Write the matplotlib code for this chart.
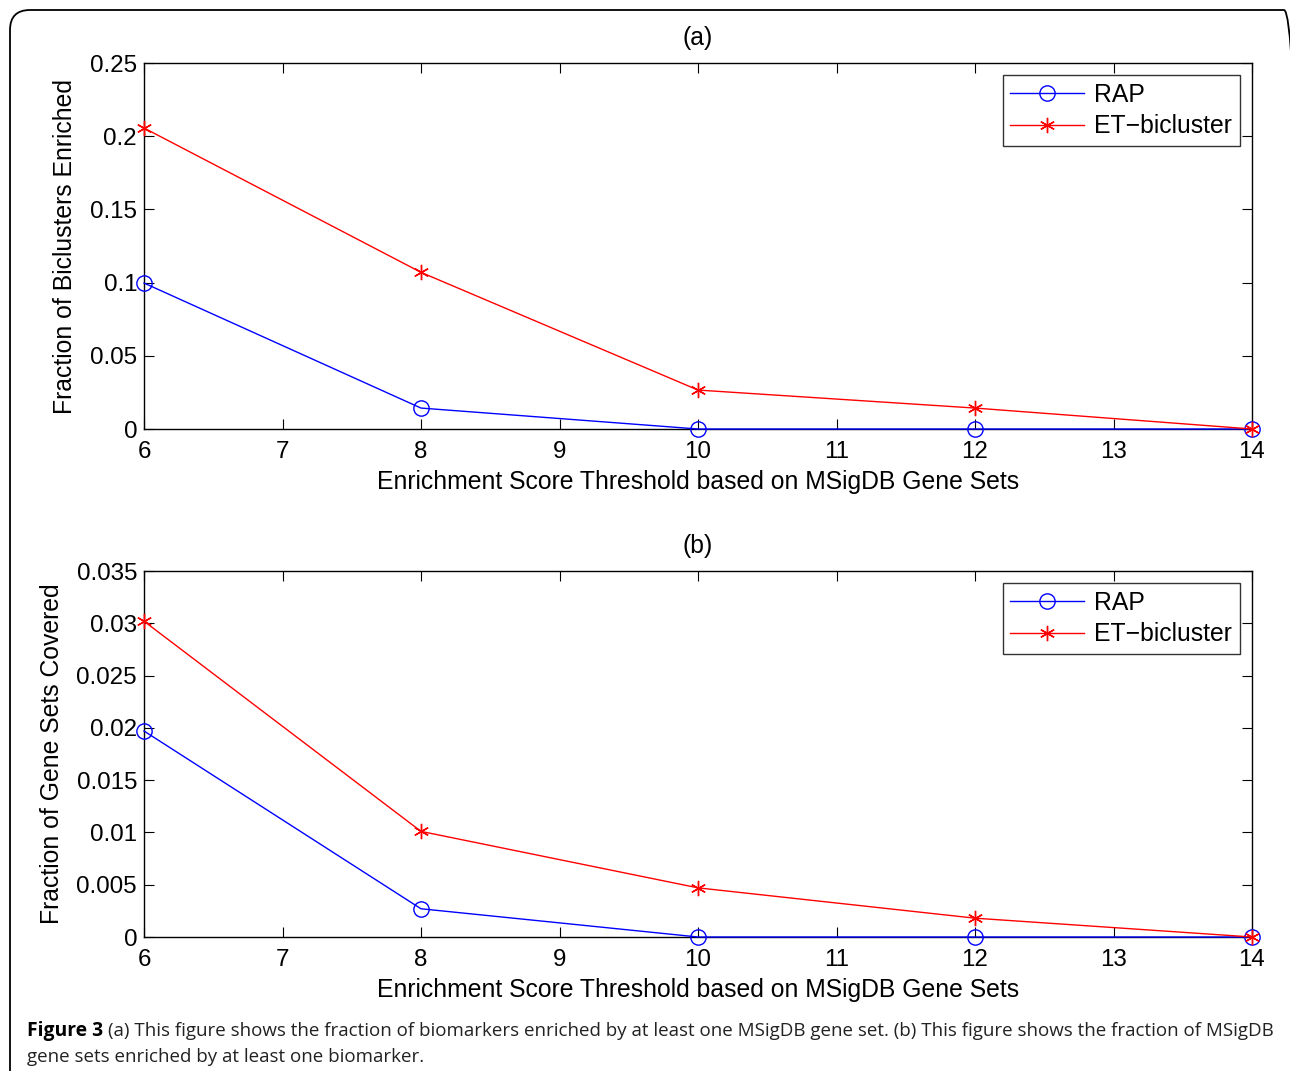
"""
Two-panel enrichment chart: RAP vs ET-bicluster, with figure caption.
"""

import matplotlib.pyplot as plt
from matplotlib.patches import FancyBboxPatch
from matplotlib.ticker import FuncFormatter

plt.switch_backend("Agg")

thresholds = [6, 8, 10, 12, 14]

# (a) fraction of biclusters enriched
rap_biclusters = [0.0997, 0.0143, 0.0, 0.0, 0.0]
et_biclusters = [0.2056, 0.1070, 0.0266, 0.0143, 0.0]

# (b) fraction of gene sets covered
rap_genesets = [0.0197, 0.0027, 0.0, 0.0, 0.0]
et_genesets = [0.0302, 0.0101, 0.0047, 0.0018, 0.0]

panel_titles = ["(a)", "(b)"]
y_labels = ["Fraction of Biclusters Enriched", "Fraction of Gene Sets Covered"]
x_label = "Enrichment Score Threshold based on MSigDB Gene Sets"
series_names = ["RAP", "ET\u2212bicluster"]
y_limits = [0.25, 0.035]
y_steps = [0.05, 0.005]

caption_bold = "Figure 3"
caption_line1 = ("(a) This figure shows the fraction of biomarkers enriched by at least one "
                 "MSigDB gene set. (b) This figure shows the fraction of MSigDB")
caption_line2 = "gene sets enriched by at least one biomarker."

W, H, DPI = 1290, 1071, 100
FS = 17.8
TICK_FS = 17.4
plt.rcParams["font.family"] = ["Liberation Sans", "DejaVu Sans"]

fig = plt.figure(figsize=(W / DPI, H / DPI), dpi=DPI)

# rounded frame around the whole figure (pixel coords via inches)
frame = FancyBboxPatch((10 / DPI, -0.5), (1304 - 10) / DPI, (H - 10) / DPI + 0.5,
                       boxstyle="round,pad=0,rounding_size=0.2",
                       transform=fig.dpi_scale_trans, fill=False,
                       edgecolor="black", linewidth=1.3, clip_on=False)
fig.add_artist(frame)

left, right = 144 / W, 1252 / W
boxes = [(63, 429), (571, 937)]
data = [(rap_biclusters, et_biclusters), (rap_genesets, et_genesets)]

fmt = FuncFormatter(lambda v, _: "%g" % round(v, 6))

for i, (top_px, bot_px) in enumerate(boxes):
    ax = fig.add_axes([left, 1 - bot_px / H, right - left, (bot_px - top_px) / H])
    rap, et = data[i]
    ax.plot(thresholds, rap, color="blue", linewidth=1.0, marker="o", markersize=11,
            markerfacecolor="none", markeredgecolor="blue", markeredgewidth=1.0,
            label=series_names[0], clip_on=False, zorder=3)
    ax.plot(thresholds, et, color="red", linewidth=1.0, marker=(6, 2, 0), markersize=11,
            markeredgecolor="red", markeredgewidth=1.0,
            label=series_names[1], clip_on=False, zorder=4)
    ax.set_xlim(6, 14)
    ax.set_ylim(0, y_limits[i])
    ax.set_xticks(range(6, 15))
    n = int(round(y_limits[i] / y_steps[i]))
    ax.set_yticks([k * y_steps[i] for k in range(n + 1)])
    ax.yaxis.set_major_formatter(fmt)
    ax.tick_params(direction="in", top=True, right=True, length=7, width=0.8,
                   labelsize=TICK_FS)
    ax.tick_params(axis="x", pad=9)
    ax.tick_params(axis="y", pad=5)
    for s in ax.spines.values():
        s.set_linewidth(1.0)
    ax.set_title(panel_titles[i], fontsize=FS, pad=13)
    ax.set_xlabel(x_label, fontsize=FS, labelpad=5)
    ax.set_ylabel(y_labels[i], fontsize=FS, labelpad=9)
    leg = ax.legend(loc="upper right", fontsize=FS, frameon=True, fancybox=False,
                    handlelength=3.0, labelspacing=0.3, borderaxespad=0.5,
                    borderpad=0.3, handletextpad=0.4)
    leg.get_frame().set_edgecolor("black")
    leg.get_frame().set_linewidth(1.0)

# caption
cap_font = ["Open Sans", "DejaVu Sans"]
cap_fs = 13.5
t_bold = fig.text(27 / W, 1 - 1036 / H, caption_bold, family=cap_font, fontsize=cap_fs + 0.4,
                  fontweight="bold", ha="left", va="baseline")
fig.canvas.draw()
bb = t_bold.get_window_extent()
fig.text((bb.x1 + 5) / W, 1 - 1036 / H, caption_line1, family=cap_font, fontsize=cap_fs,
         ha="left", va="baseline", color="#222222")
fig.text(27 / W, 1 - 1062 / H, caption_line2, family=cap_font, fontsize=cap_fs,
         ha="left", va="baseline", color="#222222")

fig.savefig("out.png", dpi=DPI)
plt.close(fig)
